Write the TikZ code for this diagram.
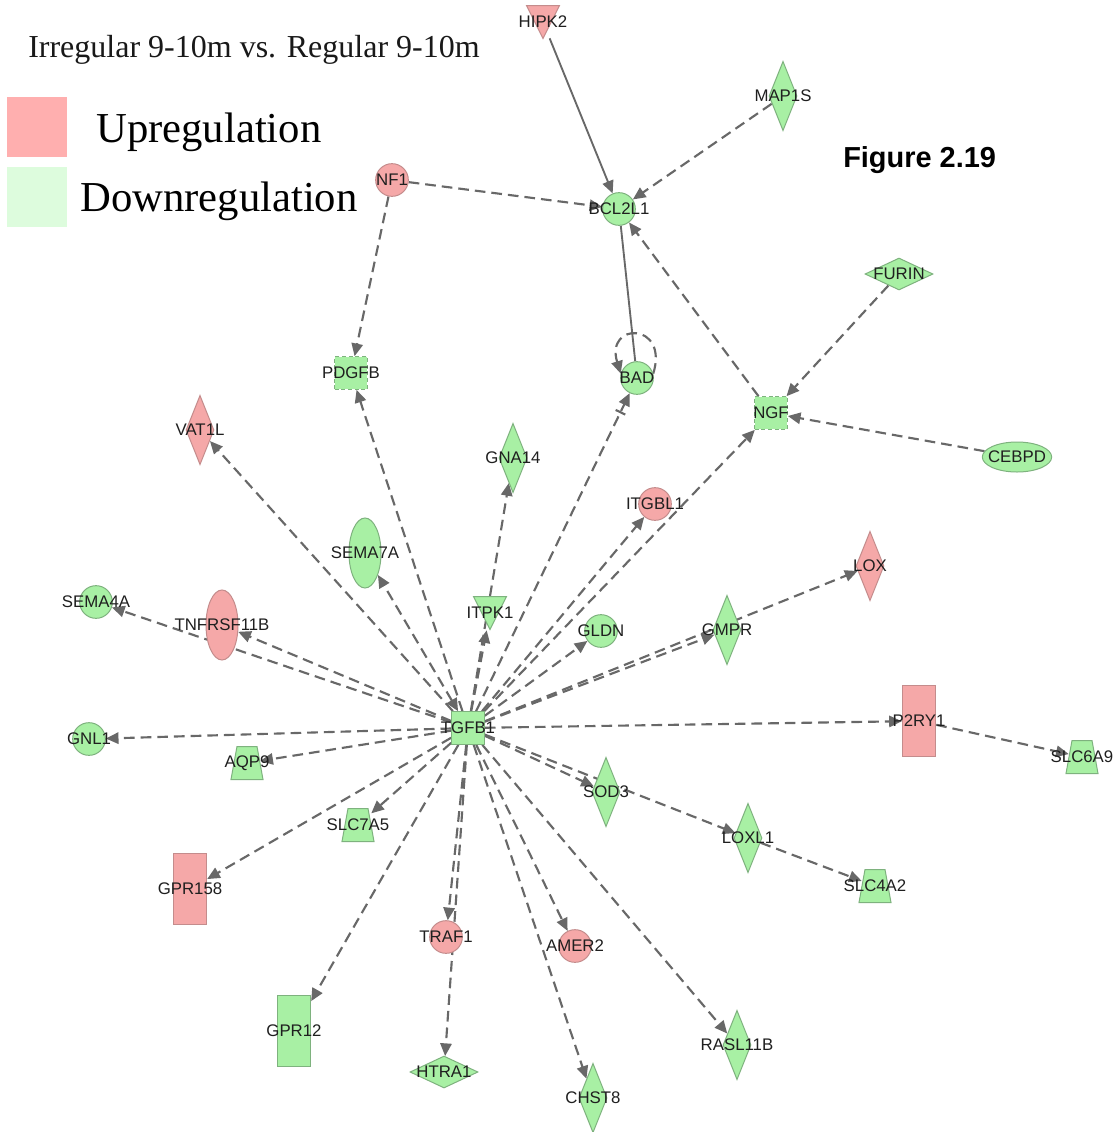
\documentclass[tikz,border=0pt]{standalone}
\usepackage{fontspec}
\setmainfont{Liberation Serif}
\setsansfont{Liberation Sans}
\usetikzlibrary{shapes.geometric,arrows.meta,backgrounds}
\definecolor{upfill}{HTML}{F5A8A8}
\definecolor{upline}{HTML}{C48C8C}
\definecolor{dnfill}{HTML}{A8F0A4}
\definecolor{dnline}{HTML}{7EB27E}
\definecolor{edgec}{HTML}{686868}
\definecolor{legup}{HTML}{FFAFAF}
\definecolor{legdn}{HTML}{DDFCDD}
\newcommand\trapnode[4]{% name, x, y, text
  \node[ghost, minimum width=19.5pt, minimum height=24.75pt] (#1) at (#2,#3) {};
  \filldraw[dn] (#2-10,#3-16.5) -- (#2+10,#3-16.5) -- (#2+16,#3+16.5) -- (#2-16,#3+16.5) -- cycle;
  \node[lbl] (#1-t) at (#2,#3) {#4};}
\newcommand\vtrinode[5]{% name, x, y, style, text
  \node[ghost, circle, minimum size=26pt] (#1) at (#2,#3) {};
  \filldraw[#4] (#2-16.5,#3-16.5) -- (#2+16.5,#3-16.5) -- (#2,#3+16.5) -- cycle;
  \node[lbl] (#1-t) at (#2,#3) {#5};}
\newcommand\gnode[5]{% shape style, colour style, name, (x,y), text
  \node[#1,#2] (#3) at #4 {};
  \node[lbl] (#3-t) at #4 {#5};}
\begin{document}
\begin{tikzpicture}[x=0.75pt,y=-0.75pt,
  lbl/.style={font=\sffamily\fontsize{12.6}{14}\selectfont, inner sep=0pt, text=black!88},
  up/.style={fill=upfill, draw=upline, line width=0.75pt},
  dn/.style={fill=dnfill, draw=dnline, line width=0.75pt},
  circ/.style={circle, minimum size=24.5pt, inner sep=0pt},
  dia/.style={diamond, minimum width=21pt, minimum height=52pt, inner sep=0pt},
  hdia/.style={diamond, minimum width=51pt, minimum height=24pt, inner sep=0pt},
  vell/.style={ellipse, minimum width=24pt, minimum height=52.5pt, inner sep=0pt},
  hell/.style={ellipse, minimum width=52pt, minimum height=22.5pt, inner sep=0pt},
  sq/.style={rectangle, minimum size=24.5pt, inner sep=0pt},
  vrect/.style={rectangle, minimum width=25pt, minimum height=53pt, inner sep=0pt},
  dsh/.style={dash pattern=on 3pt off 2pt},
  ghost/.style={draw=none, fill=none, rectangle, inner sep=0pt},
  lnk/.style={draw=edgec, line width=1.6pt, dash pattern=on 8pt off 4.5pt,
    -{Triangle[length=9.5pt,width=8.5pt]}},
  slnk/.style={draw=edgec, line width=1.4pt, -{Triangle[length=9.5pt,width=8.5pt]}},
  barm/.style={fill=edgec, draw=none, rectangle, minimum width=1.6pt, minimum height=8pt, inner sep=0pt},
]
\useasboundingbox (0,0) rectangle (1118,1132);

% legend and titles
\node[anchor=base west, font=\fontsize{24}{28}\selectfont, inner sep=0pt, text=black!90] (title) at (28,57) {Irregular 9-10m vs. Regular 9-10m};
\node[fill=legup, minimum size=45pt, inner sep=0pt] (legU) at (37,127) {};
\node[fill=legdn, minimum size=45pt, inner sep=0pt] (legD) at (37,197) {};
\node[anchor=base west, font=\fontsize{32}{36}\selectfont, inner sep=0pt] (legUt) at (96,142) {Upregulation};
\node[anchor=base west, font=\fontsize{32}{36}\selectfont, inner sep=0pt] (legDt) at (80,211) {Downregulation};
\node[anchor=base west, font=\sffamily\bfseries\fontsize{21.7}{26}\selectfont, inner sep=0pt] (fig) at (843,167) {Figure 2.19};

% genes
\vtrinode{HIPK2}{543}{22}{up}{HIPK2}
\gnode{dia}{dn}{MAP1S}{(783,96)}{MAP1S}
\gnode{circ}{up}{NF1}{(392,180)}{NF1}
\gnode{circ}{dn}{BCL2L1}{(619,209)}{BCL2L1}
\gnode{hdia}{dn}{FURIN}{(899,274)}{FURIN}
\gnode{sq}{dn,dsh}{PDGFB}{(351,373)}{PDGFB}
\gnode{circ}{dn}{BAD}{(637,378)}{BAD}
\gnode{sq}{dn,dsh}{NGF}{(771,413)}{NGF}
\gnode{hell}{dn}{CEBPD}{(1017,457)}{CEBPD}
\gnode{dia}{up}{VAT1L}{(200,430)}{VAT1L}
\gnode{dia}{dn}{GNA14}{(513,458)}{GNA14}
\gnode{circ}{up}{ITGBL1}{(655,504)}{ITGBL1}
\gnode{vell}{dn}{SEMA7A}{(365,553)}{SEMA7A}
\gnode{dia}{up}{LOX}{(870,566)}{LOX}
\gnode{circ}{dn}{SEMA4A}{(96,602)}{SEMA4A}
\gnode{vell}{up}{TNFRSF11B}{(222,625)}{TNFRSF11B}
\vtrinode{ITPK1}{490}{613}{dn}{ITPK1}
\gnode{circ}{dn}{GLDN}{(601,631)}{GLDN}
\gnode{dia}{dn}{GMPR}{(727,630)}{GMPR}
\gnode{sq}{dn}{TGFB1}{(468,728)}{TGFB1}
\gnode{vrect}{up}{P2RY1}{(919,721)}{P2RY1}
\trapnode{SLC6A9}{1082}{757}{SLC6A9}
\gnode{circ}{dn}{GNL1}{(89,739)}{GNL1}
\trapnode{AQP9}{247}{763}{AQP9}
\gnode{dia}{dn}{SOD3}{(606,792)}{SOD3}
\trapnode{SLC7A5}{358}{825}{SLC7A5}
\gnode{dia}{dn}{LOXL1}{(748,838)}{LOXL1}
\trapnode{SLC4A2}{875}{886}{SLC4A2}
\gnode{vrect}{up}{GPR158}{(190,889)}{GPR158}
\gnode{circ}{up}{TRAF1}{(446,937)}{TRAF1}
\gnode{circ}{up}{AMER2}{(575,946)}{AMER2}
\gnode{vrect}{dn}{GPR12}{(294,1031)}{GPR12}
\gnode{dia}{dn}{RASL11B}{(737,1045)}{RASL11B}
\gnode{hdia}{dn}{HTRA1}{(444,1072)}{HTRA1}
\gnode{dia}{dn}{CHST8}{(593,1098)}{CHST8}

\begin{scope}[on background layer]
\fill[white] (0,0) rectangle (1118,1132);
\draw[slnk] (HIPK2) -- (BCL2L1);
\draw[lnk] (MAP1S) -- (BCL2L1);
\draw[lnk] (NF1) -- (BCL2L1);
\draw[lnk] (NF1) -- (PDGFB);
\draw[lnk] (NGF) -- (BCL2L1);
\draw[draw=edgec, line width=1.4pt] (BCL2L1) -- (BAD);
\draw[lnk] (BAD.15) .. controls +(16,-52) and +(-16,-52) .. (BAD.165);
\draw[lnk] (FURIN) -- (NGF);
\draw[lnk] (CEBPD) -- (NGF);
\draw[lnk] (TGFB1) -- (NGF);
\draw[lnk] (TGFB1) -- (BAD) node[pos=0.94, sloped, barm] (badbar) {};
\draw[lnk] (TGFB1) -- (PDGFB);
\draw[lnk] (TGFB1) -- (VAT1L);
\draw[lnk, {Triangle[length=9.5pt,width=8.5pt]}-{Triangle[length=9.5pt,width=8.5pt]}] (TGFB1) -- (SEMA7A);
\draw[lnk] (TGFB1) -- (GNA14);
\draw[lnk] (TGFB1) -- (ITPK1);
\draw[lnk] (TGFB1) -- (ITGBL1);
\draw[lnk] (TGFB1) -- (GLDN);
\draw[lnk] (TGFB1) -- (GMPR);
\draw[lnk] (TGFB1) -- (LOX);
\draw[lnk] (TGFB1) -- (P2RY1);
\draw[lnk] (P2RY1) -- (SLC6A9);
\draw[lnk] (TGFB1) -- (SOD3);
\draw[lnk] (TGFB1) -- (LOXL1);
\draw[lnk] (LOXL1) -- (SLC4A2);
\draw[lnk] (TGFB1) -- (RASL11B);
\draw[lnk] (TGFB1) -- (CHST8);
\draw[lnk] (TGFB1) -- (AMER2);
\draw[lnk] (TGFB1) -- (TRAF1);
\draw[lnk] (TGFB1) -- (HTRA1);
\draw[lnk] (TGFB1) -- (GPR12);
\draw[lnk] (TGFB1) -- (GPR158);
\draw[lnk] (TGFB1) -- (SLC7A5);
\draw[lnk] (TGFB1) -- (AQP9);
\draw[lnk] (TGFB1) -- (GNL1);
\draw[lnk] (TGFB1) -- (SEMA4A);
\draw[lnk] (TGFB1) -- (TNFRSF11B);
\end{scope}
\end{tikzpicture}
\end{document}
